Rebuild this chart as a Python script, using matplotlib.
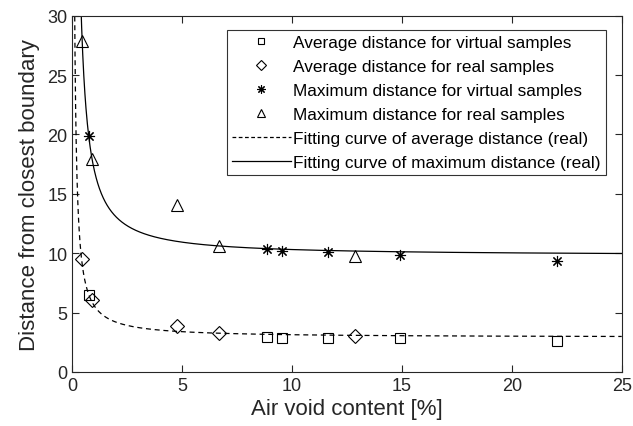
import numpy as np
from matplotlib import pyplot as plt
from matplotlib.lines import Line2D

plt.rcParams['font.family'] = ['Liberation Sans', 'DejaVu Sans']

# measured points
x_virtual = [0.78, 8.85, 9.54, 11.62, 14.9, 22.05]
avg_virtual = [6.5, 2.93, 2.88, 2.82, 2.82, 2.63]
max_virtual = [19.9, 10.36, 10.22, 10.08, 9.86, 9.36]

x_real = [0.46, 0.9, 4.76, 6.68, 12.87]
avg_real = [9.5, 6.08, 3.89, 3.27, 3.02]
max_real = [27.9, 17.9, 14.1, 10.62, 9.8]

# power-law fits  y = a + b / x**c
fit_avg = (2.9, 2.67, 1.05)
fit_max = (9.8, 7.2, 1.15)

def power_fit(x, a, b, c):
    return a + b / x**c

fig = plt.figure(figsize=(6.33, 4.27), dpi=100)
ax = fig.add_axes([0.1142, 0.1265, 0.868, 0.8344])

xc = np.linspace(0.05, 25, 2000)
ax.plot(xc, power_fit(xc, *fit_avg), 'k--', lw=0.9, dashes=(4, 3))
ax.plot(xc, power_fit(xc, *fit_max), 'k-', lw=0.9)

star = (8, 2, 0)
ax.plot(x_virtual, avg_virtual, 's', ms=7, mfc='none', mec='k', mew=0.8)
ax.plot(x_real, avg_real, 'D', ms=7, mfc='none', mec='k', mew=0.8)
ax.plot(x_virtual, max_virtual, ls='none', marker=star, ms=8, mec='k', mew=0.8)
ax.plot(x_real, max_real, '^', ms=9, mfc='none', mec='k', mew=0.8)

ax.set_xlim(0, 25)
ax.set_ylim(0, 30)
ax.set_xticks([0, 5, 10, 15, 20, 25])
ax.set_yticks([0, 5, 10, 15, 20, 25, 30])
ax.tick_params(direction='in', top=True, right=True, length=5, width=0.8,
               labelsize=13, colors='#262626')
for s in ax.spines.values():
    s.set_linewidth(0.8)
    s.set_color('#262626')
ax.set_xlabel('Air void content [%]', fontsize=16, color='#262626', labelpad=3)
ax.set_ylabel('Distance from closest boundary', fontsize=16, color='#262626', labelpad=5)

handles = [
    Line2D([], [], ls='none', marker='s', ms=5, mfc='none', mec='k', mew=0.8),
    Line2D([], [], ls='none', marker='D', ms=5, mfc='none', mec='k', mew=0.8),
    Line2D([], [], ls='none', marker=star, ms=6, mec='k', mew=0.8),
    Line2D([], [], ls='none', marker='^', ms=6, mfc='none', mec='k', mew=0.8),
    Line2D([], [], color='k', ls='--', lw=0.9, dashes=(3, 2)),
    Line2D([], [], color='k', ls='-', lw=0.9),
]
labels = [
    'Average distance for virtual samples',
    'Average distance for real samples',
    'Maximum distance for virtual samples',
    'Maximum distance for real samples',
    'Fitting curve of average distance (real)',
    'Fitting curve of maximum distance (real)',
]
leg = ax.legend(handles, labels, loc='upper right', bbox_to_anchor=(606 / 633, 1 - 30.7 / 427),
                bbox_transform=fig.transFigure, fontsize=12.4, frameon=True, fancybox=False,
                edgecolor='k', handlelength=3.4, handletextpad=0.15, borderpad=0.3,
                labelspacing=0.52, borderaxespad=0)
leg.get_frame().set_linewidth(0.8)

fig.savefig('out.png', dpi=100)
